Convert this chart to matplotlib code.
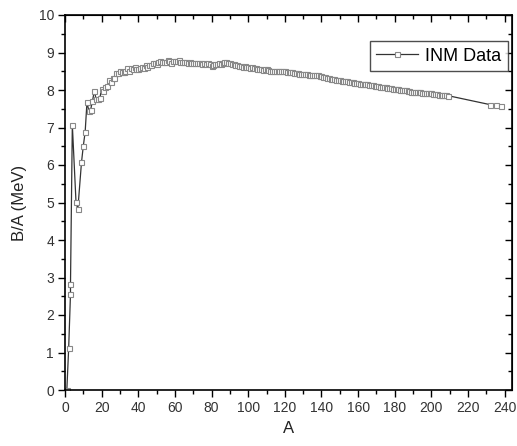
import matplotlib
matplotlib.use("Agg")
import matplotlib.pyplot as plt
from matplotlib.ticker import MultipleLocator

plt.rcParams["font.family"] = ["Liberation Sans", "DejaVu Sans"]

# mass number A and binding energy per nucleon B/A (MeV)
mass_number = [
    1, 2, 3, 3, 4, 6, 7, 9, 10, 11, 12, 13, 14, 15, 16, 17, 18, 19, 20,
    21, 22, 23, 24, 25, 26, 27, 28, 29, 30, 31, 32, 33, 34, 35, 36, 37, 38,
    39, 40, 41, 42, 43, 44, 45, 46, 47, 48, 49, 50, 51, 52, 53, 54, 55, 56,
    57, 58, 59, 60, 61, 62, 63, 64, 65, 66, 67, 68, 69, 70, 71, 72, 73, 74,
    75, 76, 77, 78, 79, 80, 81, 82, 83, 84, 85, 86, 87, 88, 89, 90, 91, 92,
    93, 94, 95, 96, 97, 98, 99, 100, 101, 102, 103, 104, 105, 106, 107, 108,
    109, 110, 111, 112, 113, 114, 115, 116, 117, 118, 119, 120, 121, 122,
    123, 124, 125, 126, 127, 128, 129, 130, 131, 132, 133, 134, 135, 136,
    137, 138, 139, 140, 141, 142, 143, 144, 145, 146, 147, 148, 149, 150,
    151, 152, 153, 154, 155, 156, 157, 158, 159, 160, 161, 162, 163, 164,
    165, 166, 167, 168, 169, 170, 171, 172, 173, 174, 175, 176, 177, 178,
    179, 180, 181, 182, 183, 184, 185, 186, 187, 188, 189, 190, 191, 192,
    193, 194, 195, 196, 197, 198, 199, 200, 201, 202, 203, 204, 205, 206,
    207, 208, 209, 232, 235, 238,
]
binding_per_nucleon = [
    0.00, 1.11, 2.57, 2.83, 7.07, 5.02, 4.82, 6.07, 6.51, 6.88, 7.68, 7.44,
    7.48, 7.70, 7.98, 7.75, 7.77, 7.78, 8.03, 7.97, 8.08, 8.11, 8.26, 8.22,
    8.33, 8.33, 8.45, 8.45, 8.52, 8.48, 8.49, 8.50, 8.58, 8.52, 8.58, 8.57,
    8.61, 8.56, 8.55, 8.58, 8.62, 8.60, 8.66, 8.62, 8.66, 8.66, 8.72, 8.71,
    8.70, 8.74, 8.78, 8.76, 8.74, 8.76, 8.79, 8.77, 8.73, 8.77, 8.78, 8.77,
    8.79, 8.75, 8.74, 8.76, 8.76, 8.73, 8.76, 8.72, 8.73, 8.72, 8.73, 8.71,
    8.72, 8.70, 8.71, 8.69, 8.72, 8.69, 8.64, 8.67, 8.69, 8.70, 8.72, 8.70,
    8.73, 8.75, 8.74, 8.71, 8.71, 8.69, 8.69, 8.66, 8.67, 8.65, 8.65, 8.62,
    8.64, 8.61, 8.61, 8.59, 8.61, 8.58, 8.58, 8.57, 8.56, 8.55, 8.54, 8.55,
    8.55, 8.54, 8.52, 8.52, 8.52, 8.51, 8.52, 8.51, 8.52, 8.50, 8.50, 8.48,
    8.49, 8.47, 8.47, 8.45, 8.45, 8.45, 8.44, 8.43, 8.43, 8.42, 8.42, 8.41,
    8.41, 8.40, 8.40, 8.39, 8.39, 8.38, 8.38, 8.35, 8.35, 8.33, 8.33, 8.30,
    8.30, 8.29, 8.28, 8.26, 8.26, 8.25, 8.24, 8.23, 8.23, 8.22, 8.22, 8.21,
    8.20, 8.19, 8.18, 8.17, 8.17, 8.16, 8.15, 8.15, 8.14, 8.13, 8.13, 8.11,
    8.11, 8.10, 8.09, 8.08, 8.08, 8.07, 8.06, 8.05, 8.05, 8.04, 8.03, 8.02,
    8.02, 8.01, 8.01, 7.99, 7.99, 7.98, 7.98, 7.96, 7.96, 7.95, 7.95, 7.94,
    7.94, 7.93, 7.92, 7.92, 7.91, 7.91, 7.91, 7.90, 7.90, 7.89, 7.88, 7.88,
    7.88, 7.87, 7.87, 7.85, 7.61, 7.59, 7.57,
]

fig = plt.figure(figsize=(5.17, 4.46), dpi=100)
ax = fig.add_axes([65 / 517, 56 / 446, 447 / 517, 375 / 446])

ax.plot(mass_number, binding_per_nucleon, color="#333333", lw=0.9,
        marker="s", ms=3.6, mfc="white", mec="#888888", mew=0.8,
        label="INM Data")

ax.set_xlim(0, 244)
ax.set_ylim(0, 10)
ax.xaxis.set_major_locator(MultipleLocator(20))
ax.xaxis.set_minor_locator(MultipleLocator(10))
ax.yaxis.set_major_locator(MultipleLocator(1))
ax.yaxis.set_minor_locator(MultipleLocator(0.5))

ax.tick_params(which="major", direction="out", length=5, width=1,
               labelsize=10, labelcolor="#333333", pad=3)
ax.tick_params(which="minor", direction="out", length=3, width=1)

# mirrored inward ticks on top and right
top = ax.secondary_xaxis("top")
top.xaxis.set_major_locator(MultipleLocator(20))
top.xaxis.set_minor_locator(MultipleLocator(10))
top.tick_params(which="major", direction="in", length=5, width=1, labeltop=False)
top.tick_params(which="minor", direction="in", length=3, width=1)
right = ax.secondary_yaxis("right")
right.yaxis.set_major_locator(MultipleLocator(1))
right.yaxis.set_minor_locator(MultipleLocator(0.5))
right.tick_params(which="major", direction="in", length=5, width=1, labelright=False)
right.tick_params(which="minor", direction="in", length=3, width=1)

for s in ax.spines.values():
    s.set_linewidth(1.2)

ax.set_xlabel("A", fontsize=12, color="#222222", labelpad=4)
ax.set_ylabel("B/A (MeV)", fontsize=12, color="#222222", labelpad=8)

leg = ax.legend(loc="upper right", bbox_to_anchor=(0.99, 0.93), fontsize=13,
                frameon=True, fancybox=False, handlelength=2.3,
                borderpad=0.35, handletextpad=0.4, borderaxespad=0)
leg.get_frame().set_edgecolor("#222222")
leg.get_frame().set_linewidth(1.0)

fig.savefig("out.png", dpi=100)
